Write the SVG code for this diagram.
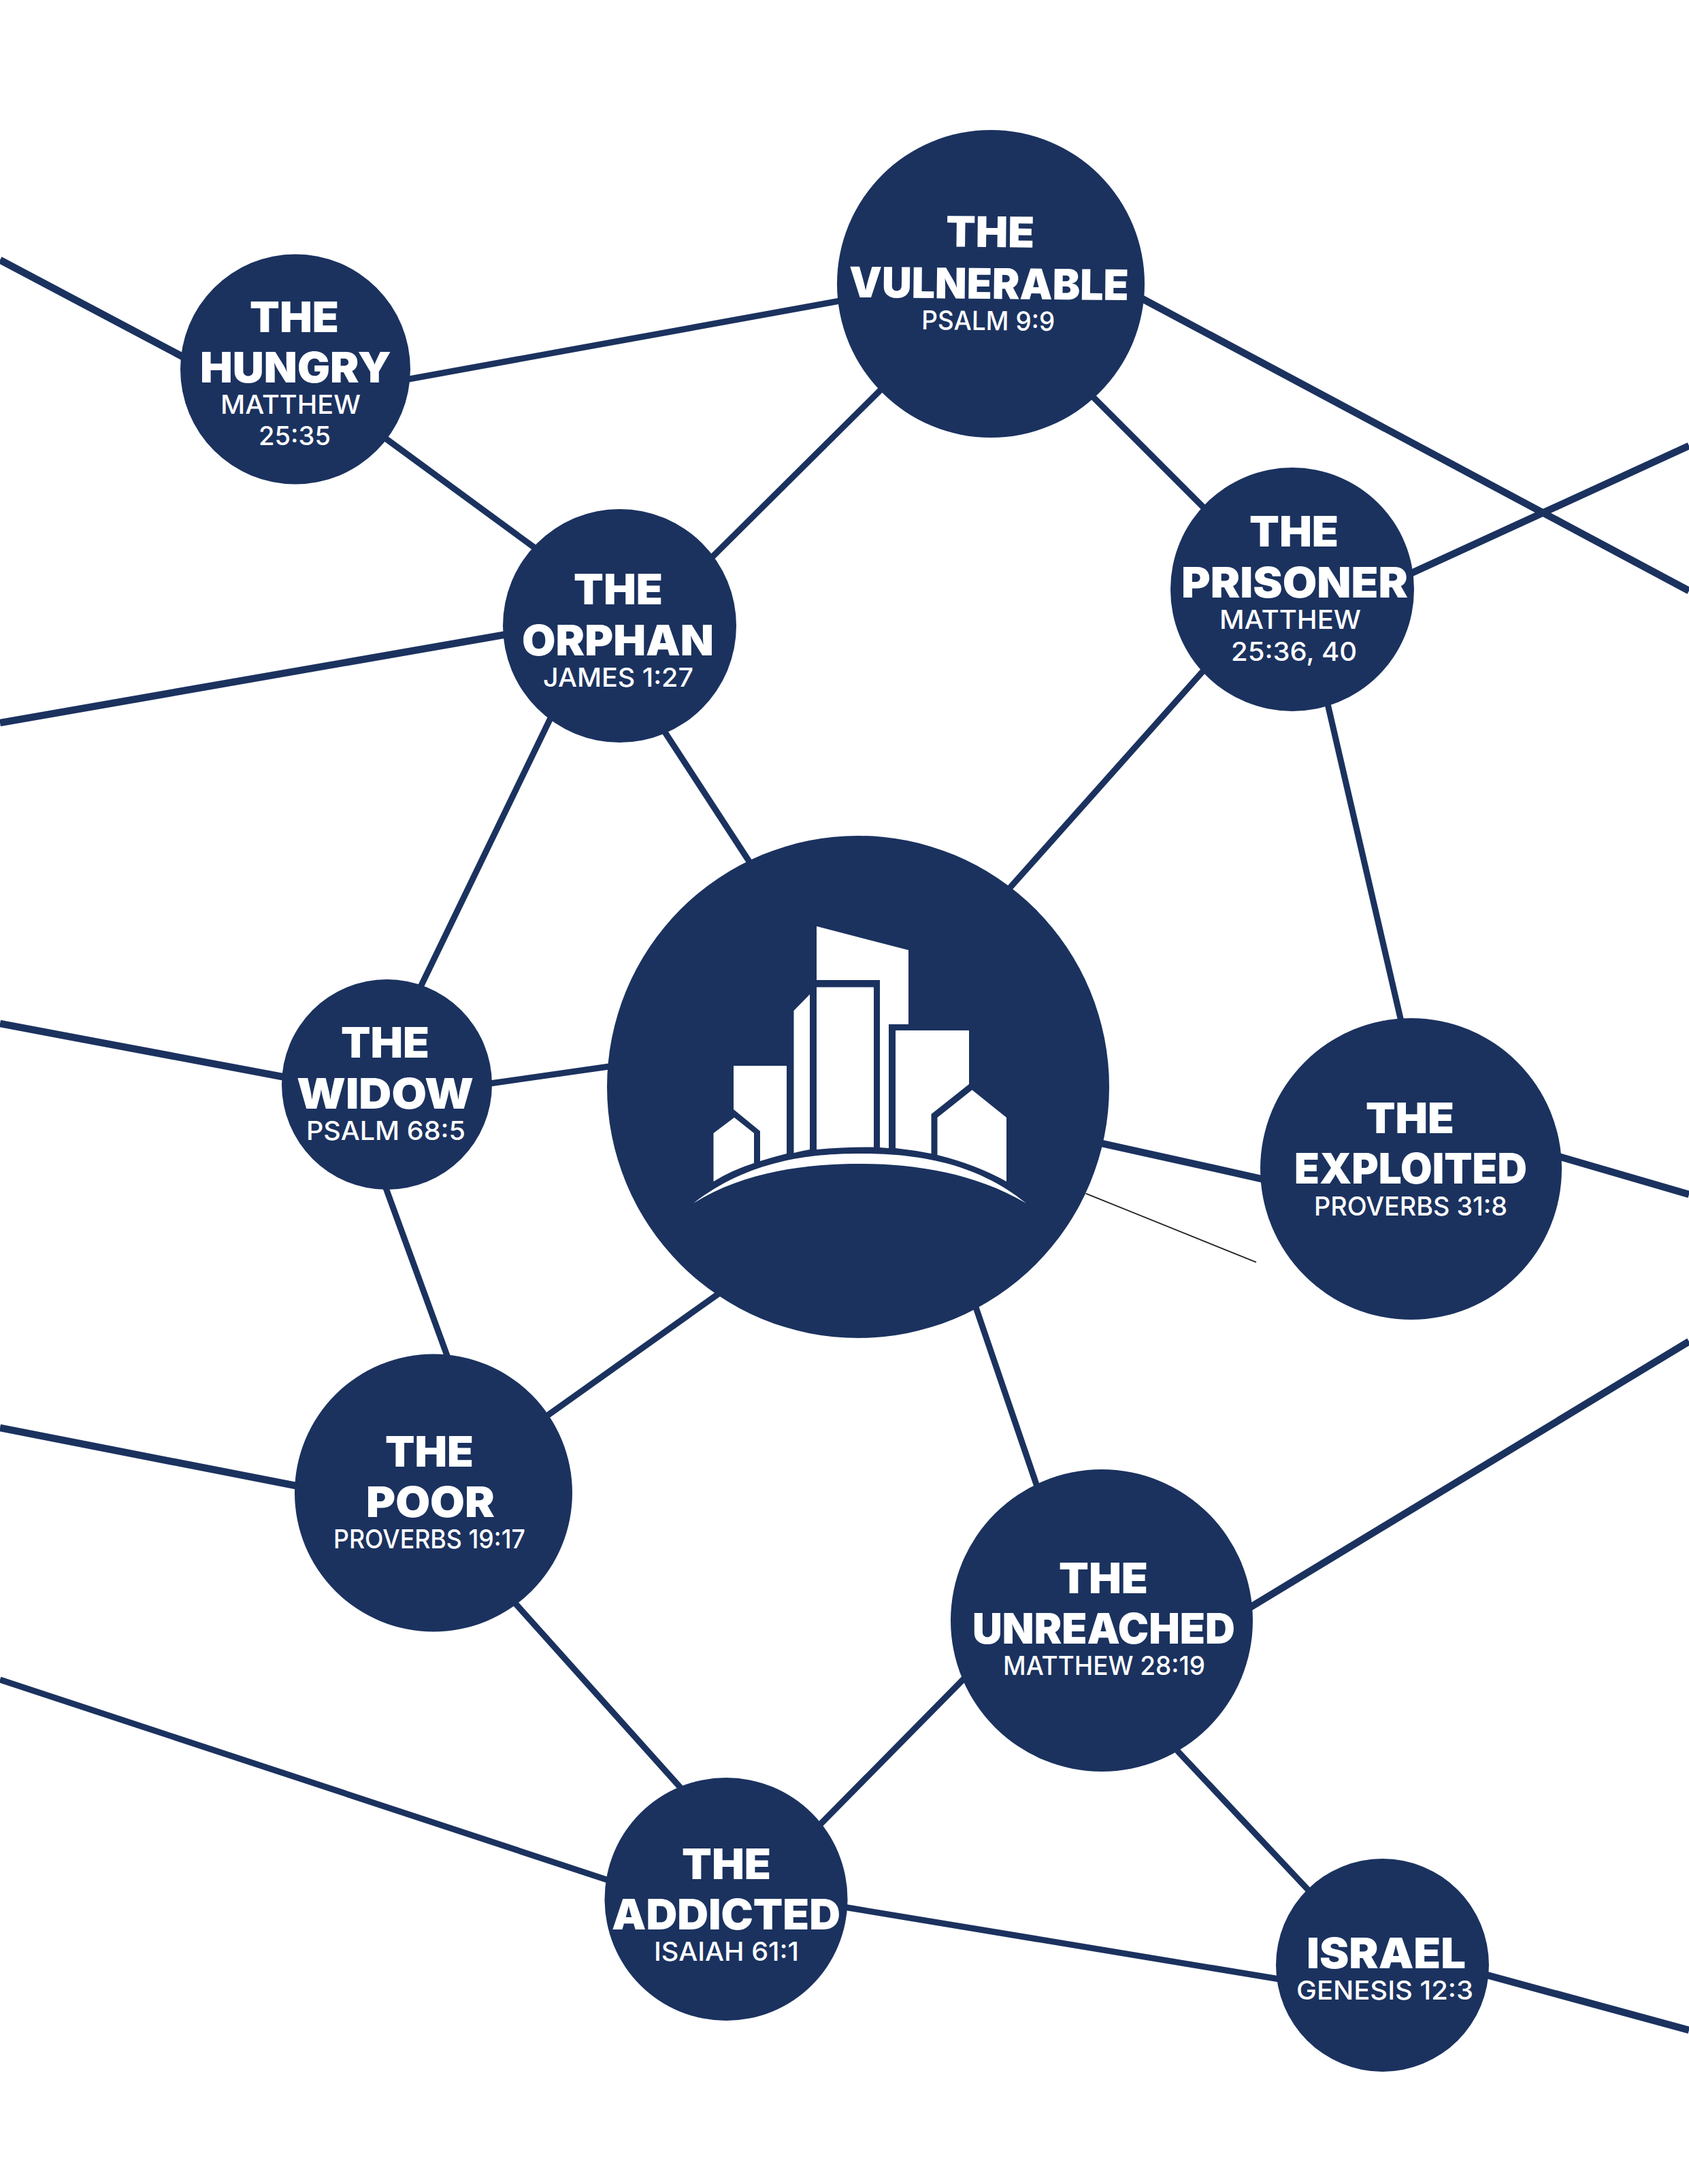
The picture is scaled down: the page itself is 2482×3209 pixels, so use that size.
<svg xmlns="http://www.w3.org/2000/svg" width="2482" height="3209" viewBox="0 0 2482 3209">
<style>
.bg{fill:#fff}
.c{fill:#1b325f}
.l{stroke:#1b325f;stroke-width:9;fill:none}
.k{stroke-width:10.5}
.thin{stroke:#222;stroke-width:1.8;fill:none}
.w{fill:#fff}
text{fill:#fff;text-anchor:middle;font-family:Inter,"Liberation Sans",sans-serif}
.t{font-size:62px;font-weight:900}
.s{font-size:38.5px;font-weight:500}
</style>
<rect class="bg" width="2482" height="3209"/>
<g id="connectors">
<line class="l k" x1="0" y1="382" x2="272" y2="526"/>
<line class="l" x1="590" y1="559" x2="1240" y2="441"/>
<line class="l" x1="565" y1="643" x2="790" y2="808"/>
<line class="l k" x1="0" y1="1062" x2="745" y2="932"/>
<line class="l" x1="1040" y1="825" x2="1300" y2="567"/>
<line class="l" x1="1600" y1="577" x2="1775" y2="752"/>
<line class="l k" x1="1675" y1="437" x2="2482" y2="868"/>
<line class="l k" x1="2070" y1="844" x2="2482" y2="655"/>
<line class="l" x1="1480" y1="1309" x2="1775" y2="978"/>
<line class="l" x1="1950" y1="1030" x2="2060" y2="1505"/>
<line class="l" x1="972" y1="1068" x2="1105" y2="1272"/>
<line class="l" x1="810" y1="1053" x2="618" y2="1450"/>
<line class="l k" x1="0" y1="1504" x2="420" y2="1583"/>
<line class="l" x1="720" y1="1592" x2="895" y2="1567"/>
<line class="l" x1="565" y1="1740" x2="660" y2="2000"/>
<line class="l k" x1="0" y1="2098" x2="440" y2="2184"/>
<line class="l" x1="800" y1="2083" x2="1060" y2="1898"/>
<line class="l k" x1="1615" y1="1679" x2="1858" y2="1733"/>
<line class="l k" x1="2290" y1="1699" x2="2482" y2="1755"/>
<line class="thin" x1="1595.6" y1="1753.6" x2="1846" y2="1854.6"/>
<line class="l" x1="1432" y1="1915" x2="1526" y2="2190"/>
<line class="l k" x1="1835" y1="2363" x2="2482" y2="1971"/>
<line class="l" x1="1200" y1="2686" x2="1420" y2="2463"/>
<line class="l" x1="1725" y1="2567" x2="1930" y2="2785"/>
<line class="l" x1="752" y1="2350" x2="1003" y2="2630"/>
<line class="l" x1="0" y1="2468" x2="895" y2="2763"/>
<line class="l" x1="1240" y1="2802" x2="1880" y2="2908"/>
<line class="l k" x1="2185" y1="2902" x2="2482" y2="2983"/>
</g>
<g id="node-center">
<circle class="c" cx="1261" cy="1597" r="369"/>
<g class="w">
<polygon points="1200,1361 1335,1396 1335,1505 1306,1505 1306,1687 1293,1686 1293,1440 1200,1440"/>
<path d="M1200,1450.5H1284V1685.5Q1240,1685 1200,1689Z"/>
<path d="M1166.5,1485L1190,1461V1689Q1178,1691 1166.5,1694Z"/>
<path d="M1078,1566H1156V1695Q1136,1700 1117,1706V1662L1078,1630Z"/>
<path d="M1048.5,1665L1079,1642L1108,1665V1709Q1076,1719 1048.5,1736Z"/>
<path d="M1316,1514H1424V1593L1368.5,1637V1695Q1343,1690 1316,1687Z"/>
<path d="M1377.5,1642L1428.5,1601.5L1479,1642V1736Q1434,1711 1377.5,1697Z"/>
<path d="M1019,1768C1100,1705 1190,1695 1263,1695C1340,1695 1430,1705 1508,1768C1430,1722 1340,1710 1263,1710C1190,1710 1095,1720 1019,1768Z"/>
</g>
</g>
<g id="node-vulnerable">
<circle class="c" cx="1456" cy="417" r="226"/>
<text class="t" transform="rotate(0.6 1455 363)" x="1455" y="363" textLength="130" lengthAdjust="spacingAndGlyphs">THE</text>
<text class="t" transform="rotate(0.6 1453 438)" x="1453" y="439" textLength="411" lengthAdjust="spacingAndGlyphs">VULNERABLE</text>
<text class="s" transform="rotate(0.6 1452 484)" x="1452" y="485" textLength="196" lengthAdjust="spacingAndGlyphs">PSALM 9:9</text>
</g>
<g id="node-hungry">
<circle class="c" cx="434" cy="542.5" r="169"/>
<text class="t" x="432.5" y="488" textLength="131" lengthAdjust="spacingAndGlyphs">THE</text>
<text class="t" x="434.5" y="562" textLength="281" lengthAdjust="spacingAndGlyphs">HUNGRY</text>
<text class="s" x="427" y="608" textLength="206" lengthAdjust="spacingAndGlyphs">MATTHEW</text>
<text class="s" x="433" y="654" textLength="106" lengthAdjust="spacingAndGlyphs">25:35</text>
</g>
<g id="node-orphan">
<circle class="c" cx="910.5" cy="919.5" r="171.5"/>
<text class="t" x="908.5" y="888" textLength="131" lengthAdjust="spacingAndGlyphs">THE</text>
<text class="t" x="908" y="963" textLength="282" lengthAdjust="spacingAndGlyphs">ORPHAN</text>
<text class="s" x="908.5" y="1009" textLength="221" lengthAdjust="spacingAndGlyphs">JAMES 1:27</text>
</g>
<g id="node-prisoner">
<circle class="c" cx="1899" cy="866" r="179"/>
<text class="t" x="1901.5" y="803" textLength="131" lengthAdjust="spacingAndGlyphs">THE</text>
<text class="t" x="1902.5" y="878" textLength="333" lengthAdjust="spacingAndGlyphs">PRISONER</text>
<text class="s" x="1896" y="924" textLength="208" lengthAdjust="spacingAndGlyphs">MATTHEW</text>
<text class="s" x="1901.5" y="971" textLength="185" lengthAdjust="spacingAndGlyphs">25:36, 40</text>
</g>
<g id="node-widow">
<circle class="c" cx="568.5" cy="1593.5" r="154.5"/>
<text class="t" x="566" y="1554" textLength="130" lengthAdjust="spacingAndGlyphs">THE</text>
<text class="t" x="566" y="1629" textLength="260" lengthAdjust="spacingAndGlyphs">WIDOW</text>
<text class="s" x="567" y="1675" textLength="234" lengthAdjust="spacingAndGlyphs">PSALM 68:5</text>
</g>
<g id="node-exploited">
<circle class="c" cx="2073.5" cy="1717.5" r="221.5"/>
<text class="t" x="2072" y="1665" textLength="130" lengthAdjust="spacingAndGlyphs">THE</text>
<text class="t" x="2073" y="1739" textLength="342" lengthAdjust="spacingAndGlyphs">EXPLOITED</text>
<text class="s" x="2073" y="1786" textLength="284" lengthAdjust="spacingAndGlyphs">PROVERBS 31:8</text>
</g>
<g id="node-poor">
<circle class="c" cx="637" cy="2193.5" r="204"/>
<text class="t" x="631" y="2155" textLength="130" lengthAdjust="spacingAndGlyphs">THE</text>
<text class="t" x="632.5" y="2229" textLength="189" lengthAdjust="spacingAndGlyphs">POOR</text>
<text class="s" x="631" y="2275" textLength="282" lengthAdjust="spacingAndGlyphs">PROVERBS 19:17</text>
</g>
<g id="node-unreached">
<circle class="c" cx="1619" cy="2381" r="222"/>
<text class="t" x="1621.5" y="2341" textLength="131" lengthAdjust="spacingAndGlyphs">THE</text>
<text class="t" x="1622" y="2415" textLength="386" lengthAdjust="spacingAndGlyphs">UNREACHED</text>
<text class="s" x="1622.5" y="2461" textLength="297" lengthAdjust="spacingAndGlyphs">MATTHEW 28:19</text>
</g>
<g id="node-addicted">
<circle class="c" cx="1067" cy="2790.5" r="178.5"/>
<text class="t" x="1067.5" y="2761" textLength="131" lengthAdjust="spacingAndGlyphs">THE</text>
<text class="t" x="1067" y="2835" textLength="336" lengthAdjust="spacingAndGlyphs">ADDICTED</text>
<text class="s" x="1067.5" y="2881" textLength="213" lengthAdjust="spacingAndGlyphs">ISAIAH 61:1</text>
</g>
<g id="node-israel">
<circle class="c" cx="2031.5" cy="2887.5" r="156.5"/>
<text class="t" x="2037" y="2892" textLength="234" lengthAdjust="spacingAndGlyphs">ISRAEL</text>
<text class="s" x="2035" y="2938" textLength="260" lengthAdjust="spacingAndGlyphs">GENESIS 12:3</text>
</g>
</svg>
